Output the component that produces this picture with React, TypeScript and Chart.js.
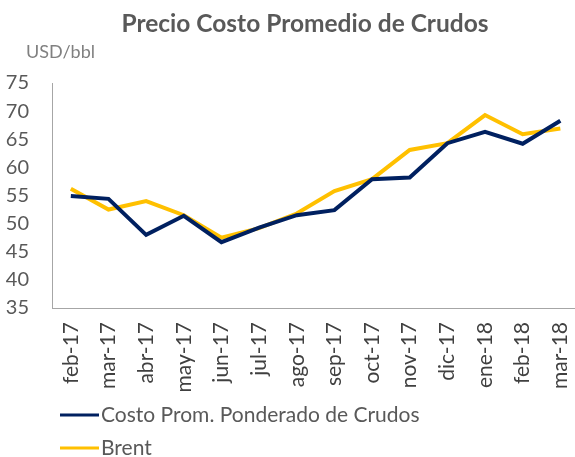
import React, { useEffect, useRef } from "react";
import { Chart, registerables } from "chart.js";

Chart.register(...registerables);

const categories = ["feb-17", "mar-17", "abr-17", "may-17", "jun-17", "jul-17", "ago-17", "sep-17", "oct-17", "nov-17", "dic-17", "ene-18", "feb-18", "mar-18"];
const costoPromedio = [54.9, 54.4, 48.0, 51.4, 46.7, 49.3, 51.5, 52.4, 57.9, 58.2, 64.3, 66.3, 64.2, 68.3];
const brent = [56.2, 52.5, 54.0, 51.5, 47.5, 49.2, 51.8, 55.8, 57.9, 63.1, 64.3, 69.3, 65.9, 66.9];
const seriesNames = ["Costo Prom. Ponderado de Crudos", "Brent"];
const seriesColors = ["#002060", "#FFC000"];
const yMin = 35;
const yMax = 75;
const yStep = 5;
const chartTitle = "Precio Costo Promedio de Crudos";
const unitLabel = "USD/bbl";

const FONT = "Lato, 'Open Sans', sans-serif";

const decorPlugin = {
  id: "decor",
  afterDraw(chart: any) {
    const ctx = chart.ctx;
    ctx.save();
    // title
    ctx.fillStyle = "#595959";
    ctx.font = `bold 24.5px ${FONT}`;
    ctx.textAlign = "center";
    ctx.textBaseline = "middle";
    ctx.fillText(chartTitle, 305, 24);
    // unit
    ctx.fillStyle = "#808080";
    ctx.font = `18px ${FONT}`;
    ctx.textAlign = "left";
    ctx.fillText(unitLabel, 26, 52);
    // legend
    const legendY = [415, 448];
    chart.data.datasets.forEach((ds: any, i: number) => {
      ctx.strokeStyle = ds.borderColor;
      ctx.lineWidth = 3;
      ctx.beginPath();
      ctx.moveTo(60, legendY[i]);
      ctx.lineTo(99, legendY[i]);
      ctx.stroke();
      ctx.fillStyle = "#595959";
      ctx.font = `21px ${FONT}`;
      ctx.textAlign = "left";
      ctx.textBaseline = "middle";
      ctx.fillText(ds.label, 101, legendY[i]);
    });
    ctx.restore();
  },
};

export default function App() {
  const ref = useRef<HTMLCanvasElement>(null);
  useEffect(() => {
    document.body.style.margin = "0";
    const chart = new Chart(ref.current!, {
      type: "line",
      data: {
        labels: categories,
        datasets: [
          { label: seriesNames[0], data: costoPromedio, borderColor: seriesColors[0], backgroundColor: seriesColors[0], borderWidth: 4, pointRadius: 0, tension: 0 },
          { label: seriesNames[1], data: brent, borderColor: seriesColors[1], backgroundColor: seriesColors[1], borderWidth: 4, pointRadius: 0, tension: 0 },
        ],
      },
      options: {
        animation: false,
        responsive: false,
        layout: { padding: { top: 83, right: 13, bottom: 0, left: 0 } },
        plugins: { legend: { display: false }, title: { display: false }, tooltip: { enabled: false } },
        scales: {
          x: {
            offset: true,
            grid: { display: false, drawTicks: false },
            border: { display: true, color: "#a6a6a6", width: 1 },
            ticks: { color: "#404040", font: { family: FONT, size: 21 }, minRotation: 90, maxRotation: 90, padding: 14, autoSkip: false },
            afterFit: (s: any) => { s.height = 149; },
          },
          y: {
            min: yMin,
            max: yMax,
            grid: { display: false, drawTicks: false },
            border: { display: true, color: "#a6a6a6", width: 1 },
            ticks: { stepSize: yStep, color: "#595959", font: { family: FONT, size: 20 }, padding: 23 },
            afterFit: (s: any) => { s.width = 52; },
          },
        },
      },
      plugins: [decorPlugin],
    });
    return () => chart.destroy();
  }, []);
  return (
    <div style={{ width: 575, height: 457, overflow: "hidden", position: "relative", background: "#fff" }}>
      <canvas ref={ref} width={600} height={457} style={{ display: "block" }} />
    </div>
  );
}
